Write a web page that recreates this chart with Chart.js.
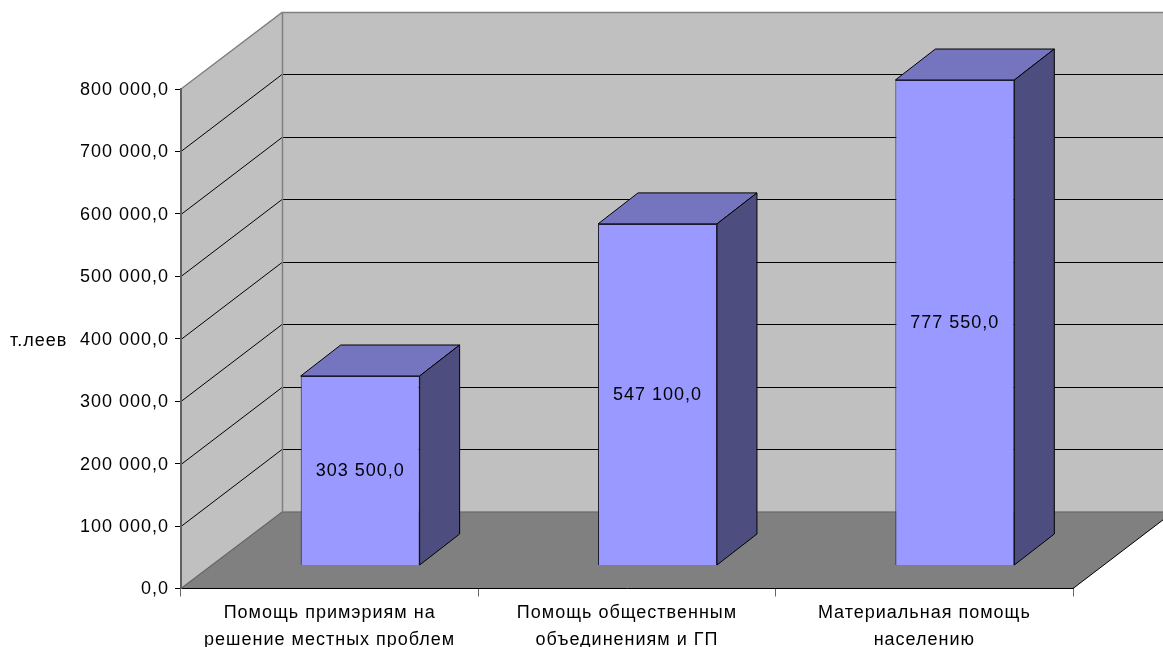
<!DOCTYPE html>
<html><head><meta charset="utf-8">
<style>html,body{margin:0;padding:0;background:#fff}canvas{display:block}</style>
<script src="https://cdn.jsdelivr.net/npm/chart.js@4"></script>
</head><body><canvas id="c" width="1163" height="647"></canvas>
<script>
const categories = [
  ["Помощь примэриям на", "решение местных проблем"],
  ["Помощь общественным", "объединениям и ГП"],
  ["Материальная помощь", "населению"]
];
const values = [303500, 547100, 777550];
const axisTitle = "т.леев";
const axisMax = 800000;
const axisStep = 100000;

const FONT = "Liberation Sans, Arial, sans-serif";
const WALL = {dx: 101, dy: -77};
const BAR_SHIFT = {dx: 30.5, dy: -23};
const BAR_DEPTH = {dx: 40, dy: -31};

function fmt(v) {
  return String(Math.round(v)).replace(/\B(?=(\d{3})+$)/g, " ") + ",0";
}
function poly(ctx, pts, fill, stroke, lw) {
  ctx.beginPath();
  pts.forEach((p, i) => i ? ctx.lineTo(p[0], p[1]) : ctx.moveTo(p[0], p[1]));
  ctx.closePath();
  if (fill) { ctx.fillStyle = fill; ctx.fill(); }
  if (stroke) { ctx.strokeStyle = stroke; ctx.lineWidth = lw || 1; ctx.stroke(); }
}
function line(ctx, pts, stroke, lw) {
  ctx.beginPath();
  pts.forEach((p, i) => i ? ctx.lineTo(p[0], p[1]) : ctx.moveTo(p[0], p[1]));
  ctx.strokeStyle = stroke; ctx.lineWidth = lw || 1; ctx.stroke();
}

const bars3d = {
  id: "bars3d",
  beforeLayout(chart) { chart.ctx.letterSpacing = "1px"; },
  beforeDraw(chart) {
    chart.ctx.letterSpacing = "1px";
    const ctx = chart.ctx, a = chart.chartArea, y = chart.scales.y;
    const l = a.left, r = a.right, t = a.top, b = a.bottom, dx = WALL.dx, dy = WALL.dy;
    ctx.save();
    poly(ctx, [[l, b], [l, t], [l + dx, t + dy], [l + dx, b + dy]], "#C0C0C0");
    poly(ctx, [[l + dx, t + dy], [r + dx, t + dy], [r + dx, b + dy], [l + dx, b + dy]], "#C0C0C0");
    poly(ctx, [[l, b], [l + dx, b + dy], [r + dx, b + dy], [r, b]], "#808080");
    y.ticks.forEach(tk => {
      if (tk.value === 0 || tk.value === axisMax) return;
      const p = Math.round(y.getPixelForValue(tk.value)) + 0.5;
      line(ctx, [[l, p], [l + dx, p + dy], [r + dx, p + dy]], "#000");
    });
    const top = t + dy + 0.5;
    line(ctx, [[l, t], [l + dx, top], [r + dx, top]], "#808080", 1.5);
    line(ctx, [[l + dx + 0.5, top], [l + dx + 0.5, b + dy]], "#808080", 1.5);
    line(ctx, [[l, b], [l + dx, b + dy + 0.5], [r + dx, b + dy + 0.5]], "#666", 1.2);
    line(ctx, [[r, b], [r + dx, b + dy]], "#000");
    ctx.fillStyle = "#000";
    ctx.font = "18px " + FONT;
    ctx.textAlign = "left";
    ctx.textBaseline = "middle";
    ctx.fillText(axisTitle, 10, 341);
    ctx.restore();
  },
  beforeDatasetsDraw(chart) {
    const ctx = chart.ctx, meta = chart.getDatasetMeta(0);
    ctx.save();
    ctx.translate(BAR_SHIFT.dx, BAR_SHIFT.dy);
    meta.data.forEach(el => {
      const x0 = el.x - el.width / 2, x1 = el.x + el.width / 2, yt = el.y, yb = el.base;
      const dx = BAR_DEPTH.dx, dy = BAR_DEPTH.dy;
      poly(ctx, [[x0, yt], [x0 + dx, yt + dy], [x1 + dx, yt + dy], [x1, yt]], "#7575BF", "#000", 1);
      poly(ctx, [[x1, yt], [x1 + dx, yt + dy], [x1 + dx, yb + dy], [x1, yb]], "#4D4D80", "#000", 1);
    });
  },
  afterDatasetsDraw(chart) {
    const ctx = chart.ctx, meta = chart.getDatasetMeta(0);
    ctx.fillStyle = "#000";
    ctx.font = "18px " + FONT;
    ctx.textAlign = "center";
    ctx.textBaseline = "middle";
    meta.data.forEach((el, i) => {
      ctx.fillText(fmt(values[i]), el.x, (el.y + el.base) / 2 + 1);
    });
    ctx.restore();
  }
};

new Chart(document.getElementById("c"), {
  type: "bar",
  data: {
    labels: categories,
    datasets: [{
      data: values,
      backgroundColor: "#9999FF",
      borderColor: "#1a1a33",
      borderWidth: 1,
      barPercentage: 0.4,
      categoryPercentage: 1,
      clip: false
    }]
  },
  options: {
    responsive: false,
    animation: false,
    devicePixelRatio: 1,
    layout: {padding: {top: 89, right: 90, left: 0, bottom: 0}},
    plugins: {legend: {display: false}, tooltip: {enabled: false}, title: {display: false}},
    scales: {
      x: {
        afterFit(s) { s.height = 58.5; },
        border: {color: "#000", width: 1},
        grid: {drawOnChartArea: false, color: "#666", tickLength: 8},
        ticks: {
          color: "#000", padding: 3, maxRotation: 0, minRotation: 0, autoSkip: false,
          font: {family: FONT, size: 18, lineHeight: 1.5}
        }
      },
      y: {
        min: 0, max: axisMax,
        afterFit(s) { s.width = 181; },
        border: {color: "#606060", width: 2},
        grid: {drawOnChartArea: false, color: "#000", tickLength: 6},
        ticks: {
          stepSize: axisStep, color: "#000", padding: 6, labelOffset: 1,
          font: {family: FONT, size: 18},
          callback: v => fmt(v)
        }
      }
    }
  },
  plugins: [bars3d]
});
</script></body></html>
